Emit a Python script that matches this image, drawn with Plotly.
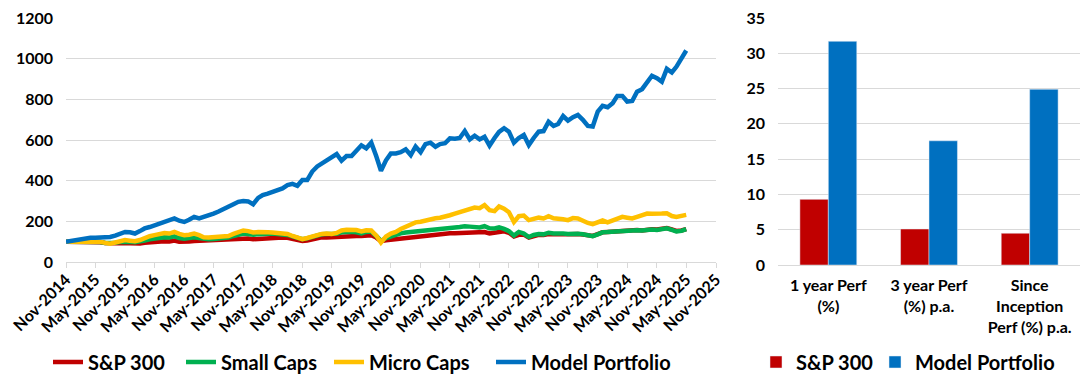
import pandas as pd
import plotly.graph_objects as go

# ---------------- data ----------------
start_month = "2014-11-01"
n_months = 127  # Nov-2014 .. May-2025

sp300 = [100, 100, 100, 101, 101, 100, 99, 97, 93, 91, 92, 93, 93, 91, 89, 91, 95, 98, 100, 101,
         102, 101, 106, 100, 99, 101, 103, 104, 106, 107, 107, 108, 108, 110, 113, 115, 117, 115, 112, 114,
         115, 116, 117, 118, 120, 119, 114, 107, 103, 106, 113, 117, 121, 120, 122, 124, 126, 127, 128, 128,
         128, 131, 132, 120, 103, 107, 110, 112, 115, 118, 120, 124, 127, 130, 132, 134, 137, 139, 141, 142,
         143, 144, 142, 141, 143, 147, 140, 144, 150, 151, 144, 126, 134, 135, 120, 128, 134, 133, 138, 136,
         139, 137, 137, 139, 138, 135, 131, 128, 137, 146, 148, 150, 152, 151, 155, 154, 157, 155, 159, 161,
         160, 163, 167, 160, 153, 155, 162]

small_caps = [100, 100, 101, 101, 102, 101, 100, 98, 94, 92, 95, 98, 100, 99, 97, 100, 106, 112, 116, 120,
              122, 121, 126, 118, 115, 118, 122, 118, 113, 112, 113, 114, 115, 120, 128, 133, 140, 138, 134, 137,
              139, 140, 140, 138, 136, 133, 126, 117, 112, 116, 124, 130, 136, 138, 137, 139, 146, 148, 149, 146,
              141, 148, 150, 128, 104, 118, 127, 133, 141, 145, 148, 152, 155, 157, 160, 162, 164, 165, 168, 170,
              172, 176, 174, 173, 170, 176, 166, 165, 170, 163, 152, 130, 148, 140, 123, 133, 138, 136, 144, 140,
              142, 140, 138, 140, 139, 136, 130, 127, 136, 146, 147, 149, 152, 152, 154, 153, 156, 155, 158, 160,
              157, 162, 166, 158, 150, 153, 162]

micro_caps = [100, 100, 101, 102, 103, 102, 101, 99, 94, 90, 96, 103, 108, 105, 102, 108, 118, 127, 132, 138,
              142, 140, 148, 138, 132, 134, 140, 132, 122, 120, 121, 122, 122, 128, 138, 146, 155, 152, 145, 148,
              145, 146, 145, 142, 140, 138, 128, 118, 112, 118, 126, 132, 138, 140, 138, 143, 155, 158, 160, 157,
              150, 156, 155, 130, 96, 125, 140, 148, 162, 173, 180, 195, 198, 205, 210, 215, 218, 222, 230, 238,
              245, 255, 262, 268, 265, 280, 255, 250, 273, 262, 245, 197, 225, 228, 206, 212, 218, 214, 225, 215,
              214, 210, 206, 216, 214, 200, 192, 186, 196, 204, 195, 205, 215, 222, 218, 214, 222, 230, 238, 237,
              236, 238, 240, 226, 222, 225, 232]

model_portfolio = [100, 104, 108, 113, 118, 119, 119, 120, 121, 123, 130, 140, 148, 146, 140, 152, 165, 172, 180, 186,
                   192, 200, 214, 203, 197, 208, 222, 214, 220, 228, 238, 248, 258, 272, 284, 296, 300, 298, 284, 315,
                   329, 336, 345, 352, 362, 378, 384, 375, 403, 403, 445, 470, 485, 505, 521, 531, 498, 521, 521, 545,
                   574, 559, 587, 520, 449, 500, 534, 534, 540, 554, 526, 568, 540, 580, 587, 567, 580, 584, 608, 606,
                   610, 644, 603, 621, 603, 616, 572, 610, 640, 658, 641, 587, 610, 625, 575, 610, 641, 644, 690, 669,
                   679, 718, 695, 712, 723, 699, 669, 666, 740, 768, 761, 781, 817, 817, 789, 792, 838, 850, 885, 916,
                   904, 887, 950, 932, 960, 1000, 1040]

x_tick_dates = ["2014-11-01", "2015-05-01", "2015-11-01", "2016-05-01", "2016-11-01", "2017-05-01",
                "2017-11-01", "2018-05-01", "2018-11-01", "2019-05-01", "2019-11-01", "2020-05-01",
                "2020-11-01", "2021-05-01", "2021-11-01", "2022-05-01", "2022-11-01", "2023-05-01",
                "2023-11-01", "2024-05-01", "2024-11-01", "2025-05-01", "2025-11-01"]
x_tick_labels = ["Nov-2014", "May-2015", "Nov-2015", "May-2016", "Nov-2016", "May-2017",
                 "Nov-2017", "May-2018", "Nov-2018", "May-2019", "Nov-2019", "May-2020",
                 "Nov-2020", "May-2021", "Nov-2021", "May-2022", "Nov-2022", "May-2023",
                 "Nov-2023", "May-2024", "Nov-2024", "May-2025", "Nov-2025"]

bar_categories = ["1 year Perf<br>(%)", "3 year Perf<br>(%) p.a.", "Since<br>Inception<br>Perf (%) p.a."]
bar_sp300 = [9.3, 5.1, 4.5]
bar_model = [31.7, 17.6, 24.9]

# ---------------- styles ----------------
RED = "#C00000"
GREEN = "#00B050"
YELLOW = "#FFC000"
BLUE = "#0070C0"
GRID = "#D9D9D9"
FONT = "Lato"
TXT = "#000000"
W, H = 1088, 380


def px_x(p):
    return p / W


def px_y(p):
    return 1 - p / H


dates = pd.date_range(start_month, periods=n_months, freq="MS")

fig = go.Figure()

line_series = [("S&P 300", sp300, RED, 88), ("Small Caps", small_caps, GREEN, 103),
               ("Micro Caps", micro_caps, YELLOW, 117), ("Model Portfolio", model_portfolio, BLUE, 150)]
for name, vals, col, lw in line_series:
    fig.add_trace(go.Scatter(x=dates, y=vals, name=name, mode="lines",
                             line=dict(color=col, width=4.5), xaxis="x", yaxis="y",
                             legend="legend", legendwidth=lw))

fig.add_trace(go.Bar(x=bar_categories, y=bar_sp300, name="S&P 300", marker_color=RED,
                     xaxis="x2", yaxis="y2", legend="legend2", legendwidth=74))
fig.add_trace(go.Bar(x=bar_categories, y=bar_model, name="Model Portfolio", marker_color=BLUE,
                     xaxis="x2", yaxis="y2", legend="legend2", legendwidth=150))

fig.update_layout(
    width=W, height=H,
    margin=dict(l=0, r=0, t=0, b=0, autoexpand=False),
    paper_bgcolor="white", plot_bgcolor="white",
    font=dict(family=FONT, color=TXT, weight="bold"),
    barmode="group", bargap=0.435, bargroupgap=0,
    xaxis=dict(domain=[px_x(66), px_x(716)], type="date",
               range=["2014-11-01", "2025-11-01"],
               tickmode="array", tickvals=x_tick_dates, ticktext=x_tick_labels,
               tickangle=-45, tickfont=dict(size=16, family=FONT, weight="bold"),
               ticks="outside", ticklen=5, tickcolor=GRID, tickwidth=1,
               showline=True, linecolor=GRID, linewidth=1, showgrid=False,
               zeroline=False, anchor="y", automargin=False, ticklabelstandoff=-4),
    yaxis=dict(domain=[px_y(262), px_y(18)], range=[0, 1200], dtick=200,
               tickfont=dict(size=16, family=FONT, weight="bold"),
               showgrid=True, gridcolor=GRID, gridwidth=1, zeroline=False,
               showline=False, ticklabelstandoff=12, anchor="x", automargin=False),
    xaxis2=dict(domain=[px_x(778), px_x(1080)], type="category",
                tickfont=dict(size=16, family=FONT, weight="bold"),
                showline=True, linecolor=GRID, linewidth=1, ticks="",
                showgrid=False, zeroline=False, anchor="y2", ticklabelstandoff=6,
                automargin=False),
    yaxis2=dict(domain=[px_y(265), px_y(18)], range=[0, 35], dtick=5,
                tickfont=dict(size=16, family=FONT, weight="bold"),
                showgrid=True, gridcolor=GRID, gridwidth=1, zeroline=False,
                showline=False, ticklabelstandoff=12, anchor="x2", automargin=False),
    legend=dict(orientation="h", x=px_x(48), y=px_y(362), xanchor="left", yanchor="middle",
                font=dict(size=20, family=FONT, weight="bold"), bgcolor="rgba(0,0,0,0)",
                itemwidth=30, traceorder="normal"),
    legend2=dict(orientation="h", x=px_x(756), y=px_y(362), xanchor="left", yanchor="middle",
                 font=dict(size=20, family=FONT, weight="bold"), bgcolor="rgba(0,0,0,0)",
                 itemwidth=30, traceorder="normal"),
)

fig.write_html("out.html", config={"displayModeBar": False},
               post_script="document.body.style.margin='0px';")
